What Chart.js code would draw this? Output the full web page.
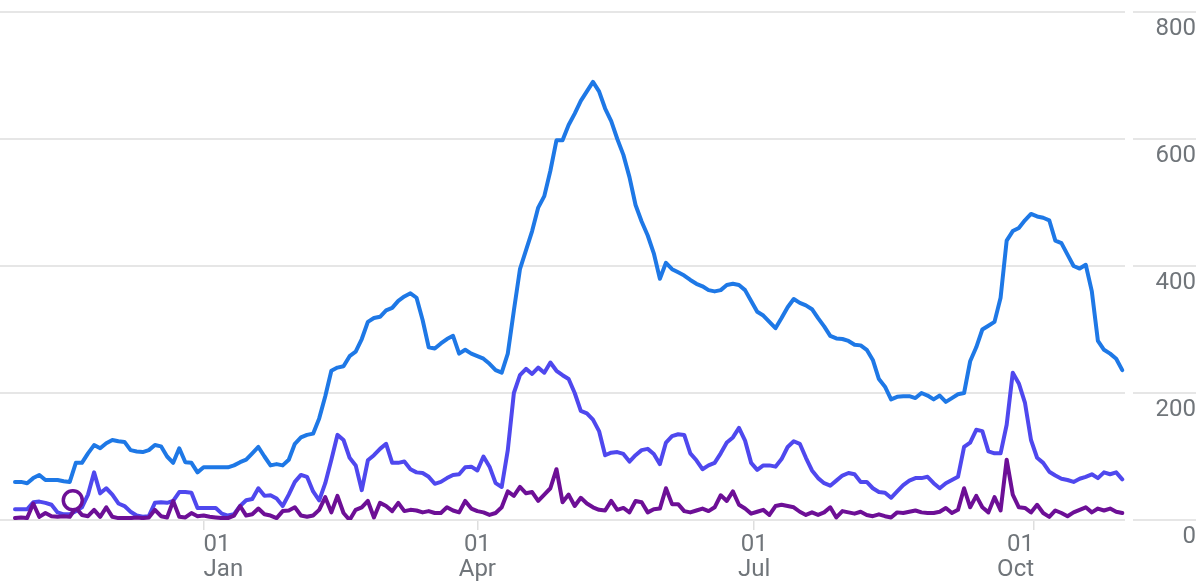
<!DOCTYPE html>
<html>
<head>
<meta charset="utf-8">
<script src="https://cdn.jsdelivr.net/npm/chart.js@4.4.0/dist/chart.umd.min.js"></script>
<style>
  html, body { margin: 0; padding: 0; background: #fff; }
  #wrap { width: 1204px; height: 582px; }
</style>
</head>
<body>
<div id="wrap"><canvas id="chart"></canvas></div>
<script>
// Série diária amostrada a cada 2 dias, a partir de 31/10
const startDate = '2022-10-31';
const stepDays = 2;

const topSeries = [
  60, 60, 58, 66, 71, 63, 63, 63, 61, 60,
  90, 90, 105, 118, 113, 121, 126, 124, 123, 110,
  108, 107, 110, 118, 116, 100, 90, 113, 91, 90,
  75, 83, 83, 83, 83, 83, 86, 91, 95, 105,
  115, 100, 86, 88, 86, 95, 120, 130, 134, 136,
  160, 195, 235, 240, 242, 258, 265, 285, 312, 318,
  320, 330, 334, 345, 352, 357, 350, 315, 272, 270,
  278, 285, 290, 262, 268, 262, 258, 254, 246, 236,
  232, 262, 330, 395, 425, 455, 492, 510, 550, 598,
  598, 622, 640, 660, 675, 690, 675, 648, 628, 600,
  575, 540, 496, 470, 448, 420, 380, 405, 395, 390,
  385, 378, 372, 368, 362, 360, 362, 370, 372, 370,
  362, 345, 328, 322, 312, 302, 318, 335, 348, 342,
  338, 332, 318, 305, 290, 286, 285, 282, 276, 275,
  268, 252, 222, 210, 190, 194, 195, 195, 192, 200,
  196, 190, 196, 186, 192, 198, 200, 250, 272, 300,
  306, 312, 350, 440, 455, 460, 472, 482, 478, 476,
  472, 440, 436, 418, 400, 396, 402, 360, 282, 268,
  262, 254, 236
];

const midSeries = [
  17, 17, 17, 28, 29, 27, 24, 12, 9, 9,
  14, 20, 40, 75, 42, 50, 40, 26, 22, 13,
  7, 5, 6, 27, 28, 27, 30, 44, 44, 43,
  19, 19, 19, 19, 10, 7, 9, 22, 31, 33,
  50, 38, 39, 34, 22, 40, 60, 71, 68, 45,
  31, 58, 95, 134, 126, 98, 86, 47, 94, 102,
  112, 120, 90, 90, 92, 80, 75, 74, 68, 57,
  60, 66, 71, 72, 83, 84, 78, 100, 84, 58,
  52, 110, 200, 228, 238, 230, 240, 232, 248, 235,
  228, 222, 200, 172, 168, 158, 140, 102, 106, 107,
  104, 92, 102, 110, 112, 104, 88, 122, 132, 135,
  134, 105, 94, 80, 86, 90, 105, 122, 130, 145,
  125, 90, 79, 86, 86, 84, 96, 115, 124, 120,
  98, 78, 66, 58, 54, 62, 70, 74, 72, 60,
  60, 50, 44, 43, 35, 45, 55, 62, 66, 66,
  68, 58, 50, 58, 63, 68, 115, 122, 142, 140,
  108, 105, 105, 150, 232, 215, 185, 126, 98, 90,
  76, 70, 65, 63, 60, 65, 68, 72, 66, 75,
  72, 75, 64
];

const lowSeries = [
  3, 4, 3, 26, 5, 11, 6, 5, 6, 5,
  19, 8, 6, 16, 5, 20, 5, 3, 3, 3,
  4, 3, 4, 16, 6, 4, 30, 5, 4, 11,
  6, 7, 5, 4, 3, 3, 7, 22, 7, 9,
  18, 9, 7, 3, 14, 15, 20, 7, 5, 7,
  16, 36, 12, 38, 11, 0, 16, 20, 30, 4,
  27, 22, 14, 27, 14, 16, 15, 12, 14, 11,
  11, 20, 15, 12, 30, 18, 14, 12, 8, 11,
  20, 45, 38, 52, 42, 44, 30, 40, 50, 80,
  28, 40, 22, 35, 26, 20, 16, 15, 30, 16,
  19, 12, 30, 28, 12, 17, 18, 50, 25, 25,
  14, 12, 15, 18, 14, 20, 39, 30, 45, 24,
  18, 10, 13, 16, 8, 22, 24, 22, 20, 13,
  8, 12, 8, 12, 20, 4, 14, 12, 10, 13,
  8, 6, 9, 6, 4, 12, 11, 13, 15, 12,
  11, 11, 13, 19, 11, 16, 50, 20, 38, 20,
  12, 36, 15, 95, 40, 20, 19, 12, 24, 11,
  5, 15, 11, 6, 12, 16, 20, 12, 18, 15,
  18, 13, 11
];

// ponto destacado (círculo)
const markerDate = '2022-11-19';
const markerValue = 31;

// rótulos do eixo X
const tickDates = ['2023-01-01', '2023-04-01', '2023-07-01', '2023-10-01'];
const tickDayLabels = ['01', '01', '01', '01'];
const tickMonthLabels = ['Jan', 'Apr', 'Jul', 'Oct'];

// eixo Y
const yTicks = [0, 200, 400, 600, 800];

const DAY = 86400000;
const dayOffset = (d) => Math.round((Date.parse(d) - Date.parse(startDate)) / DAY);
const toPoints = (arr) => arr.map((v, i) => ({ x: i * stepDays, y: v }));
const tickDays = tickDates.map(dayOffset);

const labelFont = { family: 'Roboto', size: 24, lineHeight: 1.05 };
const labelColor = '#70757a';

// "buraco" branco entre a área do gráfico e a coluna dos rótulos
const gapPlugin = {
  id: 'gap',
  beforeDatasetsDraw(chart) {
    const { ctx, chartArea } = chart;
    ctx.save();
    ctx.fillStyle = '#ffffff';
    ctx.fillRect(chartArea.right, 0, 8, chartArea.bottom + 4);
    ctx.restore();
  }
};

const lineStyle = (color) => ({
  borderColor: color,
  backgroundColor: color,
  borderWidth: 4,
  pointRadius: 0,
  tension: 0,
  borderJoinStyle: 'round',
  borderCapStyle: 'round',
  fill: false
});

new Chart(document.getElementById('chart'), {
  type: 'line',
  data: {
    datasets: [
      {
        data: [{ x: dayOffset(markerDate), y: markerValue }],
        showLine: false,
        pointRadius: 9.5,
        pointBorderWidth: 3.5,
        pointBackgroundColor: '#ffffff',
        pointBorderColor: '#6d0f96'
      },
      { data: toPoints(lowSeries), ...lineStyle('#6d0f96') },
      { data: toPoints(midSeries), ...lineStyle('#4f48ee') },
      { data: toPoints(topSeries), ...lineStyle('#1e78e6') }
    ]
  },
  options: {
    responsive: true,
    maintainAspectRatio: false,
    animation: false,
    layout: { autoPadding: false, padding: { top: 12, right: 8, left: 0, bottom: 0 } },
    plugins: { legend: { display: false }, tooltip: { enabled: false } },
    scales: {
      x: {
        type: 'linear',
        min: -4.93,
        max: 364.9,
        afterBuildTicks: (s) => { s.ticks = tickDays.map(v => ({ value: v })); },
        grid: { drawOnChartArea: false, drawTicks: true, tickLength: 10, color: '#dedede', lineWidth: 1.5 },
        border: { display: false },
        ticks: {
          autoSkip: false,
          maxRotation: 0,
          align: 'inner',
          padding: 2,
          font: labelFont,
          color: labelColor,
          callback: (v, i) => [tickDayLabels[i], tickMonthLabels[i]]
        },
        afterFit: (s) => { s.height = 62; s.paddingLeft = 0; s.paddingRight = 0; }
      },
      y: {
        position: 'right',
        min: 0,
        max: 800,
        afterBuildTicks: (s) => { s.ticks = yTicks.map(v => ({ value: v })); },
        grid: { color: '#e6e6e6', lineWidth: 2, drawTicks: true, tickLength: 71 },
        border: { display: false },
        ticks: { padding: 0, crossAlign: 'far', labelOffset: 17, font: labelFont, color: labelColor },
        afterFit: (s) => { s.width = 71; s.paddingTop = 0; s.paddingBottom = 0; }
      }
    }
  },
  plugins: [gapPlugin]
});
</script>
</body>
</html>
